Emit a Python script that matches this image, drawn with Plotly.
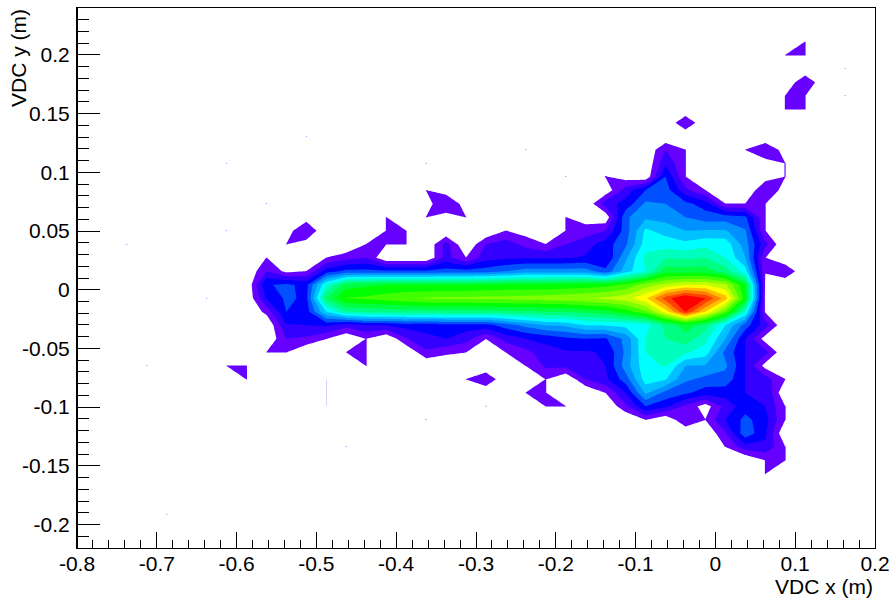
import plotly.graph_objects as go

x_centers = [-0.7875,-0.7625,-0.7375,-0.7125,-0.6875,-0.6625,-0.6375,-0.6125,-0.5875,-0.5625,
             -0.5375,-0.5125,-0.4875,-0.4625,-0.4375,-0.4125,-0.3875,-0.3625,-0.3375,-0.3125,
             -0.2875,-0.2625,-0.2375,-0.2125,-0.1875,-0.1625,-0.1375,-0.1125,-0.0875,-0.0625,
             -0.0375,-0.0125,0.0125,0.0375,0.0625,0.0875,0.1125,0.1375,0.1625,0.1875]
y_centers = [-0.21425,-0.20275,-0.19125,-0.17975,-0.16825,-0.15675,-0.14525,-0.13375,-0.12225,-0.11075,
             -0.09925,-0.08775,-0.07625,-0.06475,-0.05325,-0.04175,-0.03025,-0.01875,-0.00725,0.00425,
             0.01575,0.02725,0.03875,0.05025,0.06175,0.07325,0.08475,0.09625,0.10775,0.11925,
             0.13075,0.14225,0.15375,0.16525,0.17675,0.18825,0.19975,0.21125,0.22275,0.23425]

# level units per bin; rows run bottom to top, each with 40 columns
z_rows = [
[0]*40,
[0]*40,
[0,0,0,0,1.03]+[0]*35,
[0]*40,
[0]*40,
[0]*34+[1.02]+[0]*5,
[0]*34+[1.02,1.02]+[0]*4,
[0]*13+[1.03]+[0]*18+[1.02,2.6,2.8,1.02]+[0]*4,
[0]*32+[1.9,4.7,3.2]+[0]*5,
[0]*17+[1.03]+[0]*10+[1.02,0,2,1.02,3,4.3,3.4,1.02]+[0]*4,
[0]*12+[1.005]+[0]*7+[1.03,0,0,1.02,1.02,0,0,1.75,4,3.3,1.75,0.5,2.3,3.6,3,1.02]+[0]*4,
[0]*12+[1.005]+[0]*9+[1.02,1.02,0,0,1.02,3,6.2,4.7,4.2,3.5,3.5,3,3,0]+[0]*4,
[0]*8+[1.02]+[0]*3+[1.005]+[0]*6+[1.02,2,0,0,1.02,0,2,2.8,4.5,7.5,7.1,5.2,4.7,4.6,3,2.5,1.02]+[0]*4,
[0,0,0,1.03,0,0,0,1.02,1.02]+[0]*5+[1.02]+[0]*7+[1.02,2.2,2.3,2.9,3,5.5,7.7,8.1,6,5.9,5.2,3,0.6,0]+[0]*4,
[0]*9+[1.02,1.02,0,0,1.02,1.02,0,0,1.8,1.25,1.02,0,1.02,1.7,2.6,2.9,2.9,3.1,5.2,8,8.5,8.2,7.5,4.7,3,2.4,0]+[0]*4,
[0]*9+[0,2,1.8,1.02,0,1.02,0,1.9,2.8,3,2.4,1.02,2.4,3,3.3,3.8,4,3.9,5.3,8,9,9.6,8.3,6,3,0.5,0]+[0]*4,
[0]*9+[0,2.9,3,3.2,2.4,3,3,3.4,3.3,3.6,3.5,3.6,4.5,5.3,6,6.2,7,7.1,7.3,7.6,9.3,10.5,9.5,7,4.5,2.5,0]+[0]*4,
[0]*9+[1.3,4,3.5,7,9,9.3,9.4,9.4,9.5,9.5,9.5,9.6,9.7,9.8,10,10,10.3,10.6,11.5,12.8,15.5,19.05,16,12.8,8,0.9,0]+[0]*4,
[0,0,0,0,0,0,1.03,0,0,3.1,4.2,3.8,10,12.05,12.2,12.5,12.9,13.1,13.2,13.2,13.3,13.3,13.4,13.5,13.7,13.9,14.2,14.6,15.8,18.5,20.2,19.05,16.5,11.5,0.8,0]+[0]*4,
[0]*9+[3.9,4.2,3.7,8,10.5,10.8,11,11,11,11,11,11.1,11.2,11.2,11.2,11.3,11.4,11.6,12.2,13.5,14.3,14.9,14.9,14.2,11,0.9,0]+[0]*4,
[0]*9+[2,0.7,1.02,3.5,4.3,4.3,4.2,4.2,4.2,4.4,4.4,4.5,5,5.5,5.5,5.5,5.5,4.3,6.5,8,10.5,10.5,10.5,9.5,7.5,1.02,2]+[0]*4,
[0]*9+[1.02,0,0,1.02,1.6,2,0,0,0,2.4,1.02,2.6,2.8,2.9,2.9,2.9,3.1,3,5.8,8.3,8.9,8.8,9,8,6,1.02,0]+[0]*4,
[0,0,1.03,0,0,0,0,0,0,0,1.02,0.5,0,0,1.02,1.02,1.02,0,2.4,0,2,2.5,1.7,1.02,2,2.6,3.5,4.8,7.5,7.6,7.3,7.7,7.6,5.5,2.3,0]+[0]*4,
[0,0,0,0,0,0,0,1.03,0,0,0.5,2,0,0,0,1.02,1.02,0,0,0,0,1.02,0.5,0,1.02,1.5,2,4.5,7.2,6.6,6,6.1,6.1,5.1,1.02,0]+[0]*4,
[0]*11+[0.5,0,0,0,1.02,0,1.02,0.5,1.02,0,0,0,0,1.02,0.44,0.2,4.8,5.8,5.6,5,4.5,4.5,4.2,1.02,0]+[0]*4,
[0]*9+[1.03]+[0]*7+[0.5,2,0.5,0,0,0,0,0,0,2.6,3.3,5.2,5,4.3,3.5,1.02,1.02,1.02,0]+[0]*4,
[0]*17+[1.02,0.5,0,0,0,0,0,0,0,0.25,2.5,4,4.5,2.3,1.02,0,0,2,0.5]+[0]*4,
[0]*24+[1.03,0,1.05,0.5,0.15,4,1.02,0,0,0,0.5,1.02]+[0]*4,
[0]*7+[1.03]+[0]*9+[1.03]+[0]*11+[2.8,1.02,0,0,0,0.5,1.02]+[0]*4,
[0]*22+[1.03]+[0]*6+[2,1.02,0,0,1.02,2,0.5]+[0]*4,
[0]*11+[1.03]+[0]*28,
[0]*30+[2]+[0]*9,
[0]*35+[1.02,1.02,0,0,0],
[0]*35+[1.02,1.02,0,1.03,0],
[0]*36+[2,0,0,0],
[0]*38+[1.03,0],
[0]*35+[1.02,1.02,0,0,0],
[0]*36+[1.02,0,0,0],
[0]*40,
[0]*40,
]

band_colors = ["#ffffff","#6600ff","#3300ff","#0000ff","#0050ff","#0090ff","#00c0ff","#00ffff",
               "#00ffbf","#00ff80","#00ff40","#00ff00","#40ff00","#80ff00","#bfff00","#ffff00",
               "#ffbf00","#ff8000","#ff4000","#ff0000"]

x_ticks = [-0.8,-0.7,-0.6,-0.5,-0.4,-0.3,-0.2,-0.1,0,0.1,0.2]
x_labels = ["-0.8","-0.7","-0.6","-0.5","-0.4","-0.3","-0.2","-0.1","0","0.1","0.2"]
y_ticks = [-0.2,-0.15,-0.1,-0.05,0,0.05,0.1,0.15,0.2]
y_labels = ["-0.2","-0.15","-0.1","-0.05","0","0.05","0.1","0.15","0.2"]

n = len(band_colors)
colorscale = [[i/(n-1), c] for i, c in enumerate(band_colors)]

fig = go.Figure(go.Contour(
    x=x_centers, y=y_centers, z=z_rows,
    autocontour=False,
    contours=dict(start=1, end=19, size=1, coloring="fill", showlines=False),
    colorscale=colorscale, showscale=False,
    line=dict(width=0, smoothing=0),
    hoverinfo="skip",
))

FONT = "Liberation Sans"
fig.update_layout(
    template="none",
    width=892, height=602,
    margin=dict(l=77, r=17, t=8, b=54, pad=0),
    paper_bgcolor="white", plot_bgcolor="white",
    font=dict(family=FONT, size=21, color="black"),
    showlegend=False,
    xaxis=dict(range=[-0.8, 0.2], tickmode="array", tickvals=x_ticks, ticktext=x_labels,
               ticks="inside", ticklen=16, tickwidth=1, tickcolor="black",
               minor=dict(ticks="inside", ticklen=8, tickwidth=1, tickcolor="black",
                          tickmode="linear", tick0=-0.8, dtick=0.02, showgrid=False),
               showgrid=False, zeroline=False, showline=True, linecolor="black",
               linewidth=1, mirror=True, ticklabelstandoff=-3, automargin=False),
    yaxis=dict(range=[-0.22, 0.24], tickmode="array", tickvals=y_ticks, ticktext=y_labels,
               ticks="inside", ticklen=23, tickwidth=1, tickcolor="black",
               minor=dict(ticks="inside", ticklen=12, tickwidth=1, tickcolor="black",
                          tickmode="linear", tick0=-0.2, dtick=0.01, showgrid=False),
               showgrid=False, zeroline=False, showline=True, linecolor="black",
               linewidth=1, mirror=True, ticklabelstandoff=2, automargin=False),
    shapes=[
        dict(type="line", xref="paper", yref="paper", x0=0, x1=0, y0=0, y1=1,
             line=dict(color="black", width=2)),
    ],
    annotations=[
        dict(text="VDC x (m)", xref="paper", yref="paper", x=1, y=0, xanchor="right", yanchor="top",
             yshift=-25, showarrow=False, font=dict(family=FONT, size=21, color="black")),
        dict(text="VDC y (m)", xref="paper", yref="paper", x=0, y=1, xanchor="center", yanchor="top",
             xshift=-59, yshift=1, textangle=-90, showarrow=False, font=dict(family=FONT, size=21, color="black")),
    ],
)

fig.write_html("out.html", config={"displayModeBar": False},
               post_script="document.body.style.margin='0';document.body.style.overflow='hidden';")
